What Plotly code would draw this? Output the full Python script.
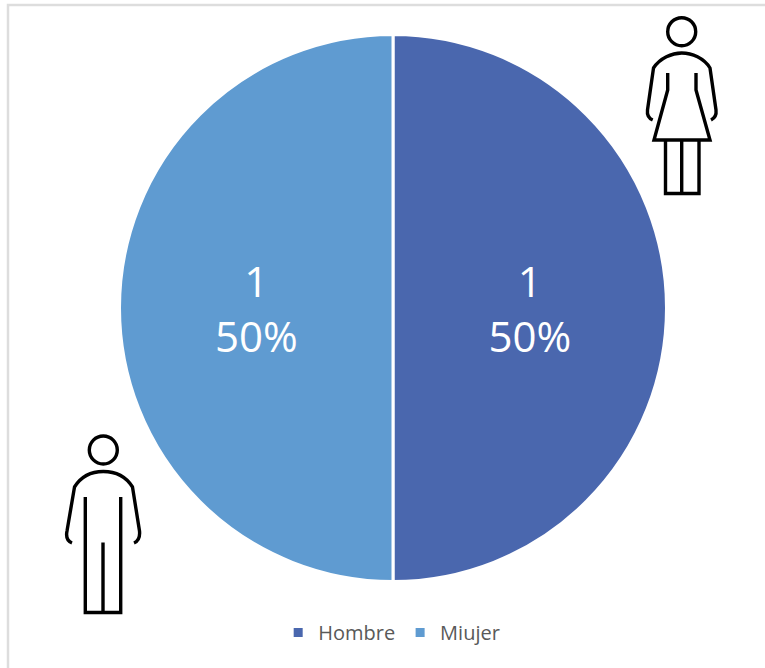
import plotly.graph_objects as go

categories = ["Hombre", "Miujer"]
values = [1, 1]
colors = ["#4A67AE", "#5F9BD1"]

W, H = 765, 668
cx, cy, r = 393, 308, 273.5

WOMAN = [
    "M 652.7 120 C 648 118 647 114 647.5 110 L 653.5 68 C 660 58 672 53 681.7 53 C 692 53 704 58 710 68 L 716 110 C 716.5 114 715 118 711 120",
    "M 667.7 73 L 667.7 90 L 654 140 L 710 140 L 696 90 L 696 73",
    "M 665.5 140 L 665.5 193.5 L 699 193.5 L 699 140",
    "M 681.7 140 L 681.7 193.5",
]
MAN = [
    "M 72 543 C 67 541 66 536 67 531 L 74.5 487 C 82 475 94 471.5 103.3 471.5 C 113 471.5 125 475 132.5 487 L 139.5 531 C 140 536 139 541 134 543",
    "M 85.3 497 L 85.3 612.5 L 120.7 612.5 L 120.7 497",
    "M 103 542.5 L 103 612.5",
]

fig = go.Figure(go.Pie(
    labels=categories, values=values, sort=False, direction="clockwise", rotation=0,
    marker=dict(colors=colors, line=dict(color="white", width=3)),
    textinfo="value+percent", textposition="inside", insidetextorientation="horizontal",
    textfont=dict(color="white", size=42, family="Open Sans"),
    hoverinfo="label+value+percent",
    domain=dict(x=[(cx - r) / W, (cx + r) / W], y=[1 - (cy + r) / H, 1 - (cy - r) / H]),
))

shapes = [dict(type="rect", x0=8, y0=5, x1=775, y1=678, xref="x", yref="y",
               line=dict(color="#DDDDDD", width=2.5), layer="below")]
for p in WOMAN + MAN:
    shapes.append(dict(type="path", path=p, xref="x", yref="y", line=dict(color="black", width=3.4)))
for hx, hy in [(681.7, 31.7), (103.3, 450)]:
    shapes.append(dict(type="circle", x0=hx - 14, x1=hx + 14, y0=hy - 14, y1=hy + 14,
                       xref="x", yref="y", line=dict(color="black", width=3.4)))

fig.update_layout(
    width=W, height=H, margin=dict(l=0, r=0, t=0, b=0),
    paper_bgcolor="white", plot_bgcolor="white",
    xaxis=dict(range=[0, W], visible=False, domain=[0, 1], fixedrange=True),
    yaxis=dict(range=[H, 0], visible=False, domain=[0, 1], fixedrange=True),
    shapes=shapes,
    legend=dict(orientation="h", x=0.512, xref="paper", y=0.024, xanchor="center", yanchor="bottom",
                font=dict(size=20, family="Open Sans", color="#595959"), itemwidth=30),
    showlegend=True,
)
fig.add_trace(go.Scatter(x=[None], y=[None], showlegend=False, hoverinfo="skip"))
fig.write_html("out.html", config=dict(displayModeBar=False), post_script="document.body.style.margin='0';")
